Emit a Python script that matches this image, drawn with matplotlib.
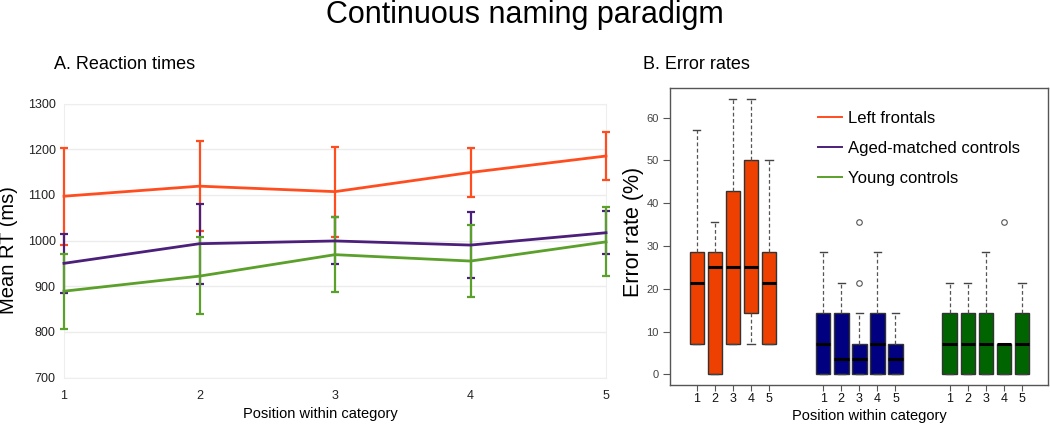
import matplotlib
matplotlib.use('Agg')
import matplotlib.pyplot as plt
import numpy as np
from matplotlib.lines import Line2D

plt.rcParams['font.family'] = ['Liberation Sans', 'DejaVu Sans']

# ---------------- data ----------------
group_names = ['Left frontals', 'Aged-matched controls', 'Young controls']
positions_rt = [1, 2, 3, 4, 5]
position_labels = ['1', '2', '3', '4', '5']

rt_left = [1097, 1119, 1107, 1149, 1185]
rt_left_lo = [991, 1020, 1007, 1096, 1132]
rt_left_hi = [1203, 1217, 1205, 1202, 1238]

rt_aged = [950, 993, 999, 990, 1017]
rt_aged_lo = [885, 904, 948, 917, 970]
rt_aged_hi = [1015, 1081, 1052, 1062, 1065]

rt_young = [889, 922, 969, 955, 997]
rt_young_lo = [807, 838, 887, 877, 923]
rt_young_hi = [970, 1007, 1052, 1033, 1073]

# Error rates (%) box statistics per position
err_left_whislo = [7.14, 0.0, 7.14, 7.14, 7.14]
err_left_q1 = [7.14, 0.0, 7.14, 14.29, 7.14]
err_left_med = [21.43, 25.0, 25.0, 25.0, 21.43]
err_left_q3 = [28.57, 28.57, 42.86, 50.0, 28.57]
err_left_whishi = [57.14, 35.71, 64.29, 64.29, 50.0]
err_left_fliers = [[], [], [], [], []]

err_aged_whislo = [0.0, 0.0, 0.0, 0.0, 0.0]
err_aged_q1 = [0.0, 0.0, 0.0, 0.0, 0.0]
err_aged_med = [7.14, 3.57, 3.57, 7.14, 3.57]
err_aged_q3 = [14.29, 14.29, 7.14, 14.29, 7.14]
err_aged_whishi = [28.57, 21.43, 14.29, 28.57, 14.29]
err_aged_fliers = [[], [], [35.71, 21.43], [], []]

err_young_whislo = [0.0, 0.0, 0.0, 0.0, 0.0]
err_young_q1 = [0.0, 0.0, 0.0, 0.0, 0.0]
err_young_med = [7.14, 7.14, 7.14, 7.14, 7.14]
err_young_q3 = [14.29, 14.29, 14.29, 7.14, 14.29]
err_young_whishi = [21.43, 21.43, 28.57, 7.14, 21.43]
err_young_fliers = [[], [], [], [35.71], []]

# ---------------- styling ----------------
line_colors = ['#ff4d1f', '#4b1f7a', '#5aa02a']
box_colors = ['#ee4000', '#000080', '#006400']

fig = plt.figure(figsize=(10.5, 4.29), dpi=100)
W, H = 1050, 429

def fr(x0, y0, x1, y1):
    return [x0 / W, 1 - y1 / H, (x1 - x0) / W, (y1 - y0) / H]

# ---------------- panel A ----------------
axA = fig.add_axes(fr(64, 103.5, 606, 377.5))
series = [
    (rt_left, rt_left_lo, rt_left_hi),
    (rt_aged, rt_aged_lo, rt_aged_hi),
    (rt_young, rt_young_lo, rt_young_hi),
]
for (m, lo, hi), c in zip(series, line_colors):
    m = np.array(m); lo = np.array(lo); hi = np.array(hi)
    cont = axA.errorbar(positions_rt, m, yerr=[m - lo, hi - m], color=c,
                        lw=2, elinewidth=1.6, capsize=3, capthick=1.6,
                        zorder=3)
    cont.lines[0].set_clip_on(False)
    for art in cont.lines[1]:
        art.set_clip_on(False)
    for art in cont.lines[2]:
        art.set_clip_on(False)

axA.set_xlim(1, 5)
axA.set_ylim(700, 1300)
axA.set_xticks(positions_rt)
axA.set_xticklabels(position_labels)
axA.set_yticks(np.arange(700, 1301, 100))
axA.yaxis.grid(True, color='#ececec', lw=1)
axA.set_axisbelow(True)
for s in axA.spines.values():
    s.set_color('#eeeeee')
    s.set_zorder(1)
axA.tick_params(axis='both', length=0, labelsize=9, colors='#222222')
axA.tick_params(axis='x', pad=9)
axA.tick_params(axis='y', pad=6)

fig.text(9 / W, 1 - 250 / H, 'Mean RT (ms)', rotation=90, fontsize=14.5,
         ha='center', va='center')
fig.text(320 / W, 1 - 414 / H, 'Position within category', fontsize=10.5,
         ha='center', va='center')

# ---------------- panel B ----------------
axB = fig.add_axes(fr(670, 88, 1048, 385))
all_stats = [
    (err_left_whislo, err_left_q1, err_left_med, err_left_q3, err_left_whishi, err_left_fliers),
    (err_aged_whislo, err_aged_q1, err_aged_med, err_aged_q3, err_aged_whishi, err_aged_fliers),
    (err_young_whislo, err_young_q1, err_young_med, err_young_q3, err_young_whishi, err_young_fliers),
]
stats = []
positions = []
facecols = []
for g, (wl, q1, md, q3, wh, fl) in enumerate(all_stats):
    for i in range(len(md)):
        stats.append(dict(whislo=wl[i], q1=q1[i], med=md[i], q3=q3[i],
                          whishi=wh[i], fliers=fl[i]))
        positions.append(g * 7 + positions_rt[i])
        facecols.append(box_colors[g])

bp = axB.bxp(stats, positions=positions, widths=0.8, patch_artist=True,
             showfliers=True,
             boxprops=dict(edgecolor='#333333', linewidth=1),
             whiskerprops=dict(color='#555555', linestyle=(0, (3, 2)), linewidth=0.9),
             capprops=dict(color='#444444', linewidth=1),
             medianprops=dict(color='black', linewidth=2.2),
             flierprops=dict(marker='o', markerfacecolor='none',
                             markeredgecolor='#555555', markersize=4,
                             markeredgewidth=0.8))
for patch, c in zip(bp['boxes'], facecols):
    patch.set_facecolor(c)

axB.set_xlim(-0.48, 20.44)
axB.set_ylim(-2.5, 66.94)
axB.set_yticks(np.arange(0, 61, 10))
axB.set_xticks(positions)
axB.set_xticklabels(position_labels * 3)
for s in axB.spines.values():
    s.set_color('#555555')
    s.set_linewidth(1)
axB.tick_params(axis='y', direction='out', length=5, color='#555555',
                labelsize=8, labelcolor='#444444', pad=3)
axB.tick_params(axis='x', direction='out', length=4, color='#555555',
                labelsize=9, labelcolor='#111111', pad=2)

handles = [Line2D([0], [0], color=c, lw=1.4) for c in line_colors]
axB.legend(handles, group_names, loc='upper left',
           bbox_to_anchor=(0.392, 0.922), frameon=False, fontsize=12,
           handlelength=1.45, handletextpad=0.35, labelspacing=0.9,
           borderpad=0, borderaxespad=0)

fig.text(633 / W, 1 - 232 / H, 'Error rate (%)', rotation=90, fontsize=15.5,
         ha='center', va='center')
fig.text(869 / W, 1 - 416 / H, 'Position within category', fontsize=10.5,
         ha='center', va='center')

# ---------------- titles ----------------
fig.text(0.5, 1 - 23 / H, 'Continuous naming paradigm', fontsize=22,
         ha='center', va='baseline')
fig.text(54 / W, 1 - 69 / H, 'A. Reaction times', fontsize=13,
         ha='left', va='baseline')
fig.text(643 / W, 1 - 69 / H, 'B. Error rates', fontsize=13,
         ha='left', va='baseline')

fig.savefig('out.png', dpi=100)
